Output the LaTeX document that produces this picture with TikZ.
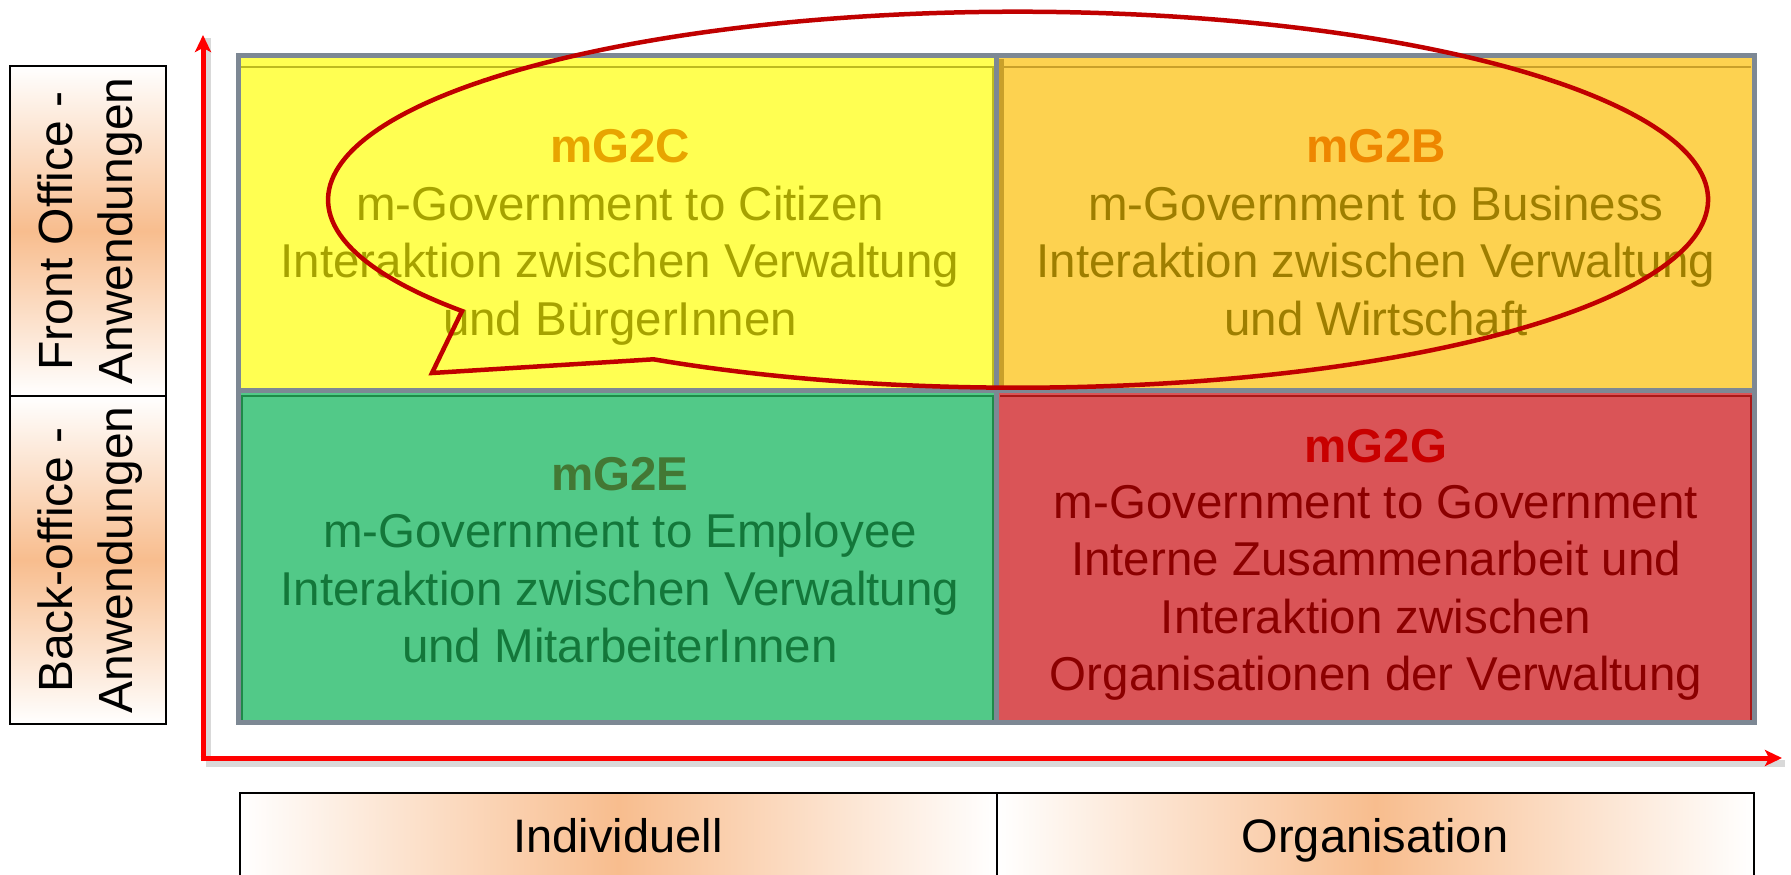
\documentclass[tikz,border=0pt]{standalone}
\usepackage{fontspec}
\setmainfont{Liberation Sans}
\usetikzlibrary{arrows.meta}
\definecolor{gridgray}{HTML}{7D8894}
\definecolor{axisred}{HTML}{FF0000}
\definecolor{callred}{HTML}{C00000}
\definecolor{peach}{HTML}{F8BD8E}
\definecolor{qyellow}{HTML}{FFFF52}
\definecolor{qyellowline}{HTML}{BDBA20}
\definecolor{qorange}{HTML}{FDD250}
\definecolor{qorangeline}{HTML}{C9A02A}
\definecolor{qgreen}{HTML}{52C988}
\definecolor{qgreenline}{HTML}{1E8A48}
\definecolor{qred}{HTML}{DA5457}
\definecolor{qredline}{HTML}{A81818}
\definecolor{tyellow}{HTML}{E8A500}
\definecolor{byellow}{HTML}{A6A200}
\definecolor{torange}{HTML}{EE8600}
\definecolor{borange}{HTML}{9E7E00}
\definecolor{tgreen}{HTML}{437834}
\definecolor{bgreen}{HTML}{13773A}
\definecolor{tred}{HTML}{C80000}
\definecolor{bred}{HTML}{8B0000}
\begin{document}
\begin{tikzpicture}[x=1pt,y=1pt,
  body/.style={anchor=base, inner sep=0pt, font=\fontsize{47.5}{57.5}\selectfont},
  ttl/.style={anchor=base, inner sep=0pt, font=\fontsize{47.5}{57.5}\selectfont\bfseries},
  side/.style={anchor=base, inner sep=0pt, rotate=90, font=\fontsize{48}{58}\selectfont},
  lab/.style={anchor=base, inner sep=0pt, font=\fontsize{47}{57}\selectfont},
  axis/.style={draw=axisred, line width=5pt, -{Stealth[length=17pt,width=16pt,inset=4pt]}},
  axshadow/.style={draw=black, opacity=0.15, line width=7pt},
  frame/.style={draw=gridgray, line width=5pt},
  callout/.style={draw=callred, line width=4.5pt, line join=miter},
  edge/.style={draw=black, line width=2pt}]
\useasboundingbox (0,0) rectangle (1791,-875);

% ---- left labels box ----
\shade[top color=white, bottom color=white, middle color=peach] (10,-66) rectangle (166,-396);
\shade[top color=white, bottom color=white, middle color=peach] (10,-396) rectangle (166,-724);
\draw[edge] (10,-66) rectangle (166,-724);
\draw[edge] (10,-396) -- (166,-396);
\node[side] (fo1) at (72,-231) {Front Office -};
\node[side] (fo2) at (132,-231) {Anwendungen};
\node[side] (bo1) at (72,-560) {Back-office -};
\node[side] (bo2) at (132,-560) {Anwendungen};

% ---- bottom labels box ----
\shade[left color=white, right color=white, middle color=peach] (240,-793) rectangle (997,-876);
\shade[left color=white, right color=white, middle color=peach] (997,-793) rectangle (1754,-876);
\draw[edge] (240,-876) -- (240,-793) -- (1754,-793) -- (1754,-876);
\draw[edge] (997,-793) -- (997,-876);
\node[lab] (ind) at (618,-852) {Individuell};
\node[lab] (org) at (1375,-852) {Organisation};

% ---- quadrants ----
\fill[qyellow] (238,-56) rectangle (996,-390);
\fill[qorange] (996,-56) rectangle (1754,-390);
\fill[qgreen] (238,-390) rectangle (996,-722);
\fill[qred] (996,-390) rectangle (1754,-722);
\draw[qyellowline, line width=1.5pt] (241,-67) -- (993,-67) -- (993,-388);
\draw[qorangeline, line width=1.5pt] (1000,-67) -- (1751,-67);
\draw[qorangeline, line width=5pt] (1001.5,-59) -- (1001.5,-388);
\draw[qgreenline, line width=1.8pt] (242,-720) -- (242,-396) -- (993,-396) -- (993,-720);
\draw[qredline, line width=1.8pt] (1000,-396) -- (1751,-396) -- (1751,-720);

% ---- frame ----
\draw[frame] (238,-56) rectangle (1754,-722);
\draw[frame] (996,-56) -- (996,-722);
\draw[frame] (238,-390) -- (1754,-390);

% ---- quadrant texts ----
\node[ttl, text=tyellow] (c0) at (620,-162) {mG2C};
\node[body, text=byellow] (c1) at (620,-220) {m-Government to Citizen};
\node[body, text=byellow] (c2) at (620,-277.5) {Interaktion zwischen Verwaltung};
\node[body, text=byellow] (c3) at (620,-335) {und BürgerInnen};

\node[ttl, text=torange] (b0) at (1376,-162) {mG2B};
\node[body, text=borange] (b1) at (1376,-220) {m-Government to Business};
\node[body, text=borange] (b2) at (1376,-277.5) {Interaktion zwischen Verwaltung};
\node[body, text=borange] (b3) at (1376,-335) {und Wirtschaft};

\node[ttl, text=tgreen] (e0) at (620,-490) {mG2E};
\node[body, text=bgreen] (e1) at (620,-547.5) {m-Government to Employee};
\node[body, text=bgreen] (e2) at (620,-605) {Interaktion zwischen Verwaltung};
\node[body, text=bgreen] (e3) at (620,-662.5) {und MitarbeiterInnen};

\node[ttl, text=tred] (g0) at (1376,-462) {mG2G};
\node[body, text=bred] (g1) at (1376,-518) {m-Government to Government};
\node[body, text=bred] (g2) at (1376,-575.5) {Interne Zusammenarbeit und};
\node[body, text=bred] (g3) at (1376,-633) {Interaktion zwischen};
\node[body, text=bred] (g4) at (1376,-690.5) {Organisationen der Verwaltung};

% ---- axes ----
\coordinate (O) at (203,-758);
\coordinate (ytip) at (203,-35);
\coordinate (xtip) at (1782,-758);
\draw[axshadow] ([shift={(3,-5)}]O) -- ([shift={(3,-5)}]xtip);
\draw[axshadow] ([shift={(4,-3)}]O) -- ([shift={(4,-3)}]ytip);
\draw[axis] ([xshift=-2.5pt]O) -- (xtip);
\draw[axis] ([yshift=-2.5pt]O) -- (ytip);

% ---- callout ellipse ----
\coordinate (ctip) at (432,-373);
\coordinate (cstart) at (462,-311);
\draw[callout] (ctip) -- (cstart)
  arc[start angle=216.3, end angle=-121.9, x radius=690, y radius=188] -- cycle;
\end{tikzpicture}
\end{document}
